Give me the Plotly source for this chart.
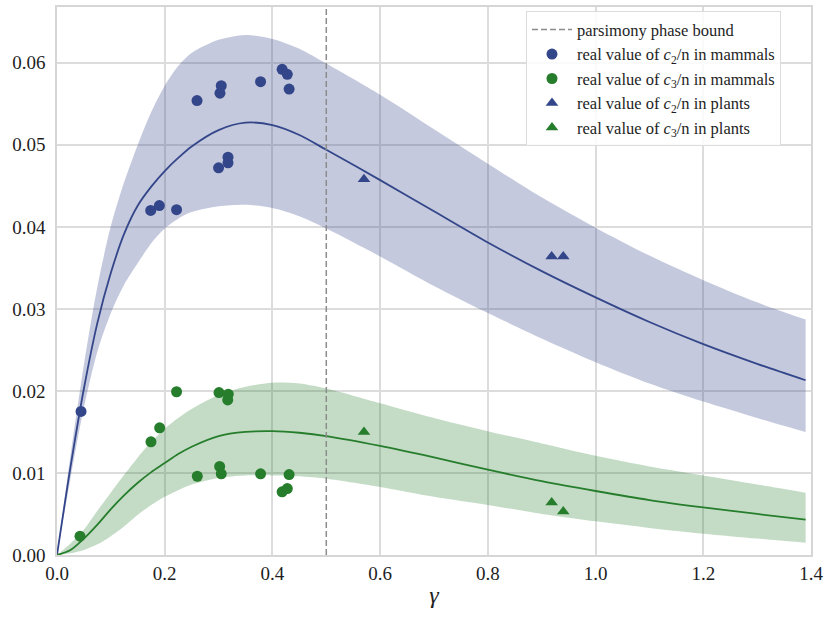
import plotly.graph_objects as go

# sample positions along gamma for the model curves
gamma = [0, 0.025, 0.05, 0.075, 0.1, 0.125, 0.15, 0.175, 0.2, 0.225, 0.25, 0.3, 0.35, 0.4,
         0.45, 0.5, 0.6, 0.7, 0.8, 0.9, 1.0, 1.1, 1.2, 1.3, 1.39]

c2_mean = [0, 0.0107, 0.0203, 0.0283, 0.0344, 0.0392, 0.0426, 0.0449, 0.0468, 0.0484,
           0.0498, 0.0518, 0.0527, 0.0524, 0.0512, 0.0494, 0.0457, 0.0419, 0.0381,
           0.0346, 0.0314, 0.0284, 0.0257, 0.0233, 0.0213]
c2_upper = [0, 0.0121, 0.0232, 0.0327, 0.0401, 0.0455, 0.0500, 0.0540, 0.0572, 0.0596,
            0.0612, 0.0628, 0.0634, 0.0629, 0.0617, 0.0599, 0.0561, 0.0519, 0.0477,
            0.0436, 0.0399, 0.0365, 0.0335, 0.0308, 0.0287]
c2_lower = [0, 0.0093, 0.0180, 0.0248, 0.0295, 0.0330, 0.0356, 0.0380, 0.0398, 0.0410,
            0.0418, 0.0425, 0.0427, 0.0423, 0.0413, 0.0398, 0.0364, 0.0328, 0.0295,
            0.0264, 0.0235, 0.0209, 0.0187, 0.0167, 0.0150]

c3_mean = [0, 0.0006, 0.0020, 0.0037, 0.0056, 0.0073, 0.0088, 0.0101, 0.0112, 0.0123,
           0.0132, 0.0145, 0.0150, 0.0151, 0.0149, 0.0145, 0.0133, 0.0119, 0.0104,
           0.0090, 0.0078, 0.0067, 0.0058, 0.0050, 0.0043]
c3_upper = [0, 0.0014, 0.0031, 0.0054, 0.0076, 0.0098, 0.0119, 0.0138, 0.0154, 0.0167,
            0.0178, 0.0195, 0.0205, 0.0210, 0.0209, 0.0203, 0.0185, 0.0167, 0.0151,
            0.0136, 0.0121, 0.0108, 0.0097, 0.0086, 0.0076]
c3_lower = [0, 0.0002, 0.0006, 0.0013, 0.0023, 0.0035, 0.0049, 0.0061, 0.0071, 0.0079,
            0.0086, 0.0094, 0.0097, 0.0097, 0.0096, 0.0093, 0.0083, 0.0071, 0.0061,
            0.0050, 0.0041, 0.0033, 0.0026, 0.0020, 0.0015]

# observed values
mammal_gamma_c2 = [0.0446, 0.174, 0.190, 0.222, 0.260, 0.3026, 0.305, 0.300, 0.3175,
                   0.3175, 0.378, 0.418, 0.4276, 0.431]
mammal_c2 = [0.0175, 0.0420, 0.0426, 0.0421, 0.0554, 0.0563, 0.0572, 0.0472, 0.0485,
             0.0478, 0.0577, 0.0592, 0.0586, 0.0568]
mammal_gamma_c3 = [0.0427, 0.1745, 0.1906, 0.222, 0.2605, 0.3008, 0.318, 0.317, 0.302,
                   0.305, 0.378, 0.418, 0.4276, 0.431]
mammal_c3 = [0.0023, 0.0138, 0.0155, 0.0199, 0.0096, 0.0198, 0.0196, 0.0189, 0.0108,
             0.0099, 0.0099, 0.0077, 0.0081, 0.0098]
plant_gamma = [0.570, 0.9185, 0.940]
plant_c2 = [0.0458, 0.0364, 0.0364]
plant_c3 = [0.0150, 0.0064, 0.0053]

parsimony_bound = 0.5
x_range = [0, 1.4]
y_range = [0, 0.0668]
x_ticks = [0.0, 0.2, 0.4, 0.6, 0.8, 1.0, 1.2, 1.4]
y_ticks = [0.00, 0.01, 0.02, 0.03, 0.04, 0.05, 0.06]

BLUE = "rgb(52,70,138)"
GREEN = "rgb(38,125,44)"
BLUE_FILL = "rgba(52,70,138,0.29)"
GREEN_FILL = "rgba(38,125,44,0.27)"
FONT = "Liberation Serif, serif"
TXT = "rgb(30,30,30)"

fig = go.Figure()

for up, lo, fill in [(c2_upper, c2_lower, BLUE_FILL), (c3_upper, c3_lower, GREEN_FILL)]:
    fig.add_trace(go.Scatter(x=gamma, y=up, mode="lines", line=dict(width=0, shape="spline", smoothing=0.8),
                             showlegend=False, hoverinfo="skip"))
    fig.add_trace(go.Scatter(x=gamma, y=lo, mode="lines", line=dict(width=0, shape="spline", smoothing=0.8),
                             fill="tonexty", fillcolor=fill, showlegend=False, hoverinfo="skip"))

fig.add_trace(go.Scatter(x=gamma, y=c2_mean, mode="lines",
                         line=dict(color=BLUE, width=1.8, shape="spline", smoothing=0.8), showlegend=False))
fig.add_trace(go.Scatter(x=gamma, y=c3_mean, mode="lines",
                         line=dict(color=GREEN, width=1.8, shape="spline", smoothing=0.8), showlegend=False))

fig.add_trace(go.Scatter(x=[parsimony_bound, parsimony_bound], y=y_range, mode="lines",
                         line=dict(color="rgb(140,140,140)", width=1.5, dash="6px,3px"),
                         name="parsimony phase bound"))
fig.add_trace(go.Scatter(x=mammal_gamma_c2, y=mammal_c2, mode="markers",
                         marker=dict(color=BLUE, size=11, symbol="circle"),
                         name="real value of <i>c</i><sub>2</sub>/n in mammals"))
fig.add_trace(go.Scatter(x=mammal_gamma_c3, y=mammal_c3, mode="markers",
                         marker=dict(color=GREEN, size=11, symbol="circle"),
                         name="real value of <i>c</i><sub>3</sub>/n in mammals"))
fig.add_trace(go.Scatter(x=plant_gamma, y=plant_c2, mode="markers",
                         marker=dict(color=BLUE, size=11, symbol="triangle-up"),
                         name="real value of <i>c</i><sub>2</sub>/n in plants"))
fig.add_trace(go.Scatter(x=plant_gamma, y=plant_c3, mode="markers",
                         marker=dict(color=GREEN, size=11, symbol="triangle-up"),
                         name="real value of <i>c</i><sub>3</sub>/n in plants"))

axis_common = dict(showgrid=True, gridcolor="rgb(220,220,220)", gridwidth=1.5,
                   showline=True, linecolor="rgb(214,214,214)", linewidth=1.5, mirror=True,
                   zeroline=False, ticks="", tickfont=dict(family=FONT, size=19, color=TXT))

fig.update_layout(
    width=828, height=618,
    margin=dict(l=57, r=16, t=5, b=63),
    plot_bgcolor="white", paper_bgcolor="white",
    font=dict(family=FONT, color=TXT),
    xaxis=dict(range=x_range, tickvals=x_ticks, tickformat=".1f",
               title=dict(text="<i>γ</i>", font=dict(family=FONT, size=24, color=TXT), standoff=4),
               **axis_common),
    yaxis=dict(range=y_range, tickvals=y_ticks, tickformat=".2f", ticklabelstandoff=6, **axis_common),
    legend=dict(x=0.622, y=0.992, xanchor="left", yanchor="top", traceorder="normal",
                bgcolor="rgba(255,255,255,0.85)", bordercolor="rgb(220,220,220)", borderwidth=1,
                font=dict(family=FONT, size=16.5, color=TXT), itemwidth=40),
)

fig.write_html("out.html")
